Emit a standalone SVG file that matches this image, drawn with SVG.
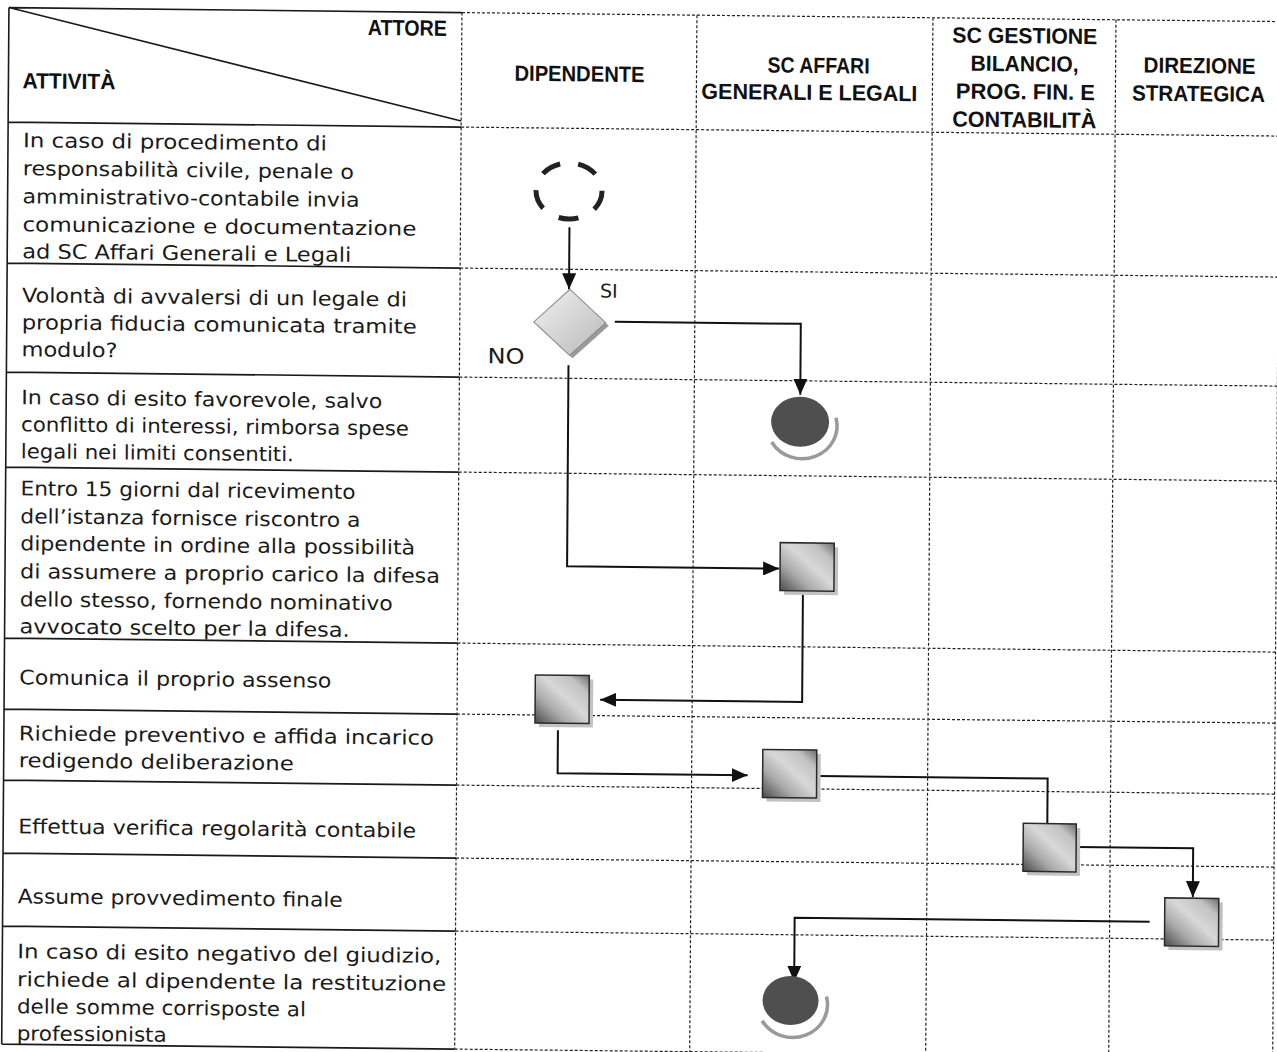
<svg xmlns="http://www.w3.org/2000/svg" width="1277" height="1052" viewBox="0 0 1277 1052">
<style>
.bg{fill:#ffffff}
.grid{stroke:#222;stroke-width:1.2;stroke-dasharray:3 2;fill:none}
.solid{stroke:#1a1a1a;stroke-width:1.6;fill:none}
.t{font-family:"DejaVu Sans","Liberation Sans",sans-serif;font-size:20px;fill:#1a1a1a}
.h{font-family:"Liberation Sans",Arial,sans-serif;font-weight:bold;font-size:22px;fill:#111}
.lbl{font-family:"DejaVu Sans","Liberation Sans",sans-serif;fill:#1a1a1a}
.conn{stroke:#111;stroke-width:2;fill:none}
.task{fill:url(#sq);stroke:#2a2a2a;stroke-width:1.5}
.tshadow{fill:#c2c2c2}
.endc{fill:#4f4f4f}
.endring{fill:none;stroke:#9a9a9a;stroke-width:3.5}
</style>
<defs>
<linearGradient id="sq" x1="0" y1="1" x2="1" y2="0">
<stop offset="0" stop-color="#4a4a4a"/>
<stop offset="0.3" stop-color="#a9a9a9"/>
<stop offset="0.55" stop-color="#d8d8d8"/>
<stop offset="0.8" stop-color="#c2c2c2"/>
<stop offset="1" stop-color="#6a6a6a"/>
</linearGradient>
<linearGradient id="dia" x1="0" y1="0" x2="1" y2="1">
<stop offset="0" stop-color="#f2f2f2"/>
<stop offset="1" stop-color="#b8b8b8"/>
</linearGradient>
<marker id="arr" markerUnits="userSpaceOnUse" markerWidth="16" markerHeight="14" viewBox="0 0 16 14" refX="16" refY="7" orient="auto">
<path d="M0,0 L16,7 L0,14 z" fill="#111"/>
</marker>
</defs>
<rect class="bg" x="0" y="0" width="1277" height="1052"/>
<g transform="matrix(1 0.011 -0.007 1 0 0)">
<g id="table">
<path class="solid" d="M9,7.5 V1044 M9,7.5 H462 M9,122 H462 M9,263 H462 M9,372 H462 M9,467 H462 M9,638 H462 M9,709 H462 M9,780 H462 M9,853 H462 M9,926 H462 M9,1044 H462 M9,7.5 L462,116"/>
<path class="grid" d="M462,7.5 H1280 M462,122 H1280 M462,263 H1280 M462,372 H1280 M462,467 H1280 M462,638 H1280 M462,709 H1280 M462,780 H1280 M462,853 H1280 M462,926 H1280 M462,1044 H1280 M462,7.5 V1044 M697,7.5 V1044 M933,7.5 V1044 M1116,7.5 V1044 M1280,7.5 V1044"/>
</g>
<g id="header">
<text class="h" x="447" y="31" text-anchor="end" textLength="79" lengthAdjust="spacingAndGlyphs">ATTORE</text>
<text class="h" x="23" y="88" textLength="93" lengthAdjust="spacingAndGlyphs">ATTIVITÀ</text>
<text class="h" x="580" y="75" text-anchor="middle" textLength="130" lengthAdjust="spacingAndGlyphs">DIPENDENTE</text>
<text class="h" x="819" y="64" text-anchor="middle" textLength="102" lengthAdjust="spacingAndGlyphs">SC AFFARI</text>
<text class="h" x="810" y="91" text-anchor="middle" textLength="216" lengthAdjust="spacingAndGlyphs">GENERALI E LEGALI</text>
<text class="h" x="1025" y="32" text-anchor="middle" textLength="145" lengthAdjust="spacingAndGlyphs">SC GESTIONE</text>
<text class="h" x="1025" y="60" text-anchor="middle" textLength="108" lengthAdjust="spacingAndGlyphs">BILANCIO,</text>
<text class="h" x="1026" y="88" text-anchor="middle" textLength="139" lengthAdjust="spacingAndGlyphs">PROG. FIN. E</text>
<text class="h" x="1025" y="116" text-anchor="middle" textLength="144" lengthAdjust="spacingAndGlyphs">CONTABILITÀ</text>
<text class="h" x="1200" y="60" text-anchor="middle" textLength="112" lengthAdjust="spacingAndGlyphs">DIREZIONE</text>
<text class="h" x="1199" y="88" text-anchor="middle" textLength="133" lengthAdjust="spacingAndGlyphs">STRATEGICA</text>
</g>
<g id="row-1">
<text class="t" x="24" y="147" textLength="304" lengthAdjust="spacingAndGlyphs">In caso di procedimento di</text>
<text class="t" x="24" y="175" textLength="331" lengthAdjust="spacingAndGlyphs">responsabilità civile, penale o</text>
<text class="t" x="24" y="203" textLength="337" lengthAdjust="spacingAndGlyphs">amministrativo-contabile invia</text>
<text class="t" x="24" y="231" textLength="394" lengthAdjust="spacingAndGlyphs">comunicazione e documentazione</text>
<text class="t" x="24" y="258" textLength="329" lengthAdjust="spacingAndGlyphs">ad SC Affari Generali e Legali</text>
</g>
<g id="row-2">
<text class="t" x="24" y="302" textLength="385" lengthAdjust="spacingAndGlyphs">Volontà di avvalersi di un legale di</text>
<text class="t" x="24" y="329" textLength="395" lengthAdjust="spacingAndGlyphs">propria fiducia comunicata tramite</text>
<text class="t" x="24" y="356" textLength="96" lengthAdjust="spacingAndGlyphs">modulo?</text>
</g>
<g id="row-3">
<text class="t" x="24" y="404" textLength="361" lengthAdjust="spacingAndGlyphs">In caso di esito favorevole, salvo</text>
<text class="t" x="24" y="431" textLength="388" lengthAdjust="spacingAndGlyphs">conflitto di interessi, rimborsa spese</text>
<text class="t" x="24" y="458" textLength="273" lengthAdjust="spacingAndGlyphs">legali nei limiti consentiti.</text>
</g>
<g id="row-4">
<text class="t" x="24" y="495" textLength="335" lengthAdjust="spacingAndGlyphs">Entro 15 giorni dal ricevimento</text>
<text class="t" x="24" y="523" textLength="340" lengthAdjust="spacingAndGlyphs">dell’istanza fornisce riscontro a</text>
<text class="t" x="24" y="550" textLength="395" lengthAdjust="spacingAndGlyphs">dipendente in ordine alla possibilità</text>
<text class="t" x="24" y="578" textLength="420" lengthAdjust="spacingAndGlyphs">di assumere a proprio carico la difesa</text>
<text class="t" x="24" y="606" textLength="373" lengthAdjust="spacingAndGlyphs">dello stesso, fornendo nominativo</text>
<text class="t" x="24" y="633" textLength="330" lengthAdjust="spacingAndGlyphs">avvocato scelto per la difesa.</text>
</g>
<g id="row-5">
<text class="t" x="24" y="684" textLength="312" lengthAdjust="spacingAndGlyphs">Comunica il proprio assenso</text>
</g>
<g id="row-6">
<text class="t" x="24" y="740" textLength="415" lengthAdjust="spacingAndGlyphs">Richiede preventivo e affida incarico</text>
<text class="t" x="24" y="767" textLength="275" lengthAdjust="spacingAndGlyphs">redigendo deliberazione</text>
</g>
<g id="row-7">
<text class="t" x="24" y="833" textLength="398" lengthAdjust="spacingAndGlyphs">Effettua verifica regolarità contabile</text>
</g>
<g id="row-8">
<text class="t" x="24" y="903" textLength="325" lengthAdjust="spacingAndGlyphs">Assume provvedimento finale</text>
</g>
<g id="row-9">
<text class="t" x="24" y="958" textLength="424" lengthAdjust="spacingAndGlyphs">In caso di esito negativo del giudizio,</text>
<text class="t" x="24" y="986" textLength="429" lengthAdjust="spacingAndGlyphs">richiede al dipendente la restituzione</text>
<text class="t" x="24" y="1013" textLength="289" lengthAdjust="spacingAndGlyphs">delle somme corrisposte al</text>
<text class="t" x="24" y="1040" textLength="150" lengthAdjust="spacingAndGlyphs">professionista</text>
</g>
<g id="connectors">
<path class="conn" d="M571,221 V283" marker-end="url(#arr)"/>
<path class="conn" d="M617,315 H803 V386" marker-end="url(#arr)"/>
<path class="conn" d="M571,359 V560 H783" marker-end="url(#arr)"/>
<path class="conn" d="M807,582 V693 H605" marker-end="url(#arr)"/>
<path class="conn" d="M563,724 V767 H753" marker-end="url(#arr)"/>
<path class="conn" d="M823,767 H1053 V812"/>
<path class="conn" d="M1082,835 H1199 V884" marker-end="url(#arr)"/>
<path class="conn" d="M1156,909 H801 V973" marker-end="url(#arr)"/>
</g>
<g id="start">
<ellipse cx="570.3" cy="184.7" rx="33" ry="28" fill="none" stroke="#222" stroke-width="5" stroke-dasharray="20 18.2"/>
</g>
<g id="decision">
<polygon points="575,286 611,319 575,352 539,319" fill="#9a9a9a"/>
<polygon points="572,283 608,316 572,349 536,316" fill="url(#dia)" stroke="#8a8a8a" stroke-width="1"/>
<text class="lbl" x="602" y="291" font-size="19">SI</text>
<text class="lbl" x="490" y="358" font-size="21" textLength="37" lengthAdjust="spacingAndGlyphs">NO</text>
</g>
<g id="end-1">
<path class="endring" d="M774.7,433.5 A35,33 0 0 0 838.8,408.5"/>
<ellipse class="endc" cx="803" cy="413" rx="29" ry="25"/>
</g>
<g id="task-1">
<rect class="tshadow" x="788" y="538" width="54" height="48"/>
<rect class="task" x="784" y="534" width="54" height="48"/>
</g>
<g id="task-2">
<rect class="tshadow" x="544" y="673" width="54" height="48"/>
<rect class="task" x="540" y="669" width="54" height="48"/>
</g>
<g id="task-3">
<rect class="tshadow" x="772" y="745" width="54" height="48"/>
<rect class="task" x="768" y="741" width="54" height="48"/>
</g>
<g id="task-4">
<rect class="tshadow" x="1033" y="816" width="53" height="48"/>
<rect class="task" x="1029" y="812" width="53" height="48"/>
</g>
<g id="task-5">
<rect class="tshadow" x="1175" y="889" width="54" height="48"/>
<rect class="task" x="1171" y="885" width="54" height="48"/>
</g>
<g id="end-2">
<path class="endring" d="M769.2,1012.3 A35,33 0 0 0 833.3,987.3"/>
<ellipse class="endc" cx="797.5" cy="991.8" rx="28" ry="24.5"/>
</g>
</g>
</svg>
